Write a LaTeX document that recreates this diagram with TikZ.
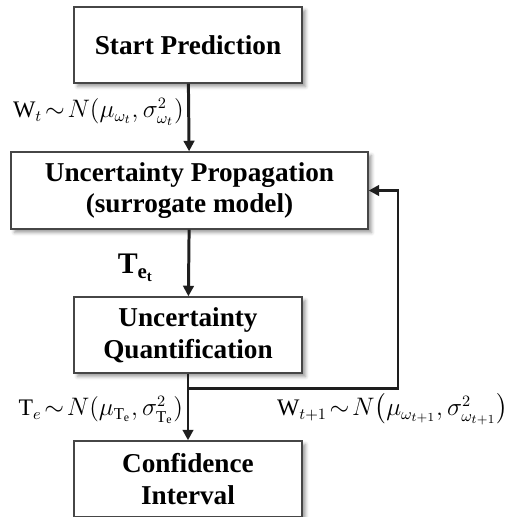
\documentclass[tikz,border=0pt]{standalone}
\usepackage{fontspec}
\setmainfont{Liberation Serif}
\usepackage{amsmath}
\usetikzlibrary{
    arrows.meta,
    positioning,
    calc,
    shadows.blur
}
\definecolor{boxline}{RGB}{70,70,70}
\definecolor{flowline}{RGB}{30,30,30}
\tikzset{
    % Process boxes
    stage/.style={
        rectangle,
        draw=boxline,
        line width=0.8pt,
        fill=white,
        minimum width=4.56cm,
        minimum height=1.52cm,
        align=center,
        font=\fontsize{15.5}{18}\selectfont\bfseries,
        blur shadow={shadow xshift=2pt, shadow yshift=-2pt, shadow blur radius=2pt, shadow blur steps=5}
    },
    widestage/.style={
        stage,
        minimum width=7.14cm,
        minimum height=1.54cm
    },
    % Arrows
    flow/.style={
        -{Triangle[width=6pt,length=6pt]},
        line width=1.7pt,
        draw=flowline
    },
    % Labels
    varlabel/.style={
        font=\fontsize{13.5}{16}\selectfont,
        inner sep=2pt
    }
}
\begin{document}
\begin{tikzpicture}[x=0.02cm, y=-0.02cm]

    \useasboundingbox (0,0) rectangle (514,517);

    % Stages
    \node[stage] (start) at (188,45) {Start Prediction};
    \node[widestage] (prop) at (189.5,190.5) {Uncertainty Propagation\\(surrogate model)};
    \node[stage] (quant) at (188,335) {Uncertainty\\Quantification};
    \node[stage] (conf) at (188,479) {Confidence\\Interval};

    % Split point and turn of the feedback loop
    \coordinate (split) at ($(quant.south)+(0,15)$);
    \coordinate (turn) at ($(split)+(210,0)$);

    % Arrows - main flow
    \draw[flow] (start) -- node[varlabel, left, pos=0.42]
        {$\mathrm{W}_t\!\sim\! N(\mu_{\omega_t},\sigma^2_{\omega_t})$} (prop);
    \draw[flow] (prop) -- node[varlabel, left, pos=0.57, xshift=-0.6cm, font=\fontsize{17}{18}\selectfont]
        {$\boldsymbol{\mathrm{T}_{\mathrm{e}_\mathrm{t}}}$} (quant);
    \draw[flow] (quant) -- node[varlabel, left, pos=0.55]
        {$\mathrm{T}_e\!\sim\! N(\mu_{\mathrm{T_e}},\sigma^2_{\mathrm{T_e}})$} (conf);

    % Feedback loop
    \draw[flow] (split) -- node[varlabel, below right, pos=0.4]
        {$\mathrm{W}_{t+1}\!\sim\! N\bigl(\mu_{\omega_{t+1}},\sigma^2_{\omega_{t+1}}\bigr)$} (turn) |- (prop.east);

\end{tikzpicture}
\end{document}
